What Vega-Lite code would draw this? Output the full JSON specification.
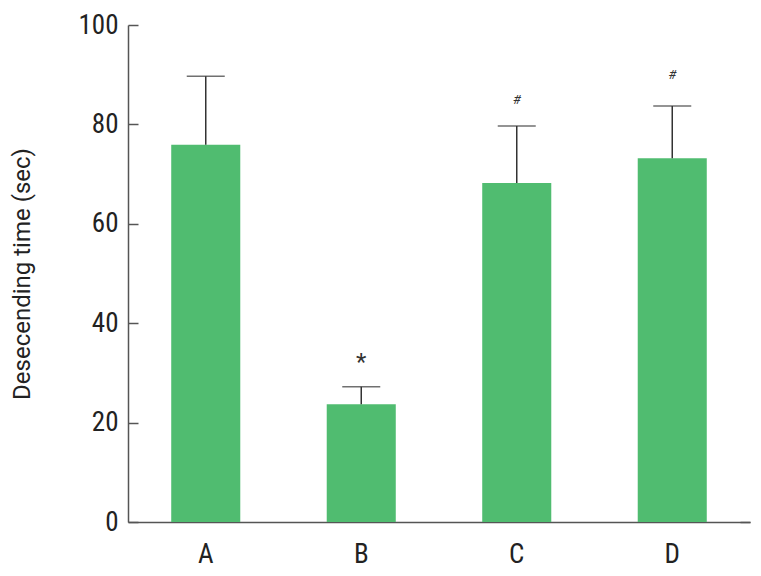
{
  "$schema": "https://vega.github.io/schema/vega-lite/v6.json",
  "width": 622,
  "height": 497,
  "autosize": {"type": "none"},
  "padding": {"left": 128, "top": 25, "right": 11, "bottom": 54},
  "background": "white",
  "config": {
    "view": {"stroke": null},
    "font": "Roboto"
  },
  "data": {
    "values": [
      {"group": "A", "mean": 75.9, "upper": 89.7, "mark": "", "markY": null},
      {"group": "B", "mean": 23.7, "upper": 27.2, "mark": "*", "markY": 31.9},
      {"group": "C", "mean": 68.2, "upper": 79.7, "mark": "#", "markY": 84.9},
      {"group": "D", "mean": 73.2, "upper": 83.7, "mark": "#", "markY": 89.9}
    ]
  },
  "encoding": {
    "x": {
      "field": "group",
      "type": "nominal",
      "scale": {"paddingInner": 0.556, "paddingOuter": 0.278},
      "axis": {
        "title": null,
        "labelAngle": 0,
        "ticks": false,
        "labelPadding": 19,
        "labelFontSize": 27,
        "labelFont": "Roboto Condensed, Liberation Sans Narrow, DejaVu Sans Condensed",
        "labelColor": "#222",
        "domainColor": "#555",
        "domainWidth": 1.5
      }
    }
  },
  "layer": [
    {
      "mark": {"type": "bar", "color": "#50BC70"},
      "encoding": {
        "y": {
          "field": "mean",
          "type": "quantitative",
          "scale": {"domain": [0, 100], "nice": false},
          "axis": {
            "title": "Desecending time (sec)",
            "titleFontSize": 24,
            "titleFontWeight": "normal",
            "titleColor": "#222",
            "titlePadding": 44,
            "values": [0, 20, 40, 60, 80, 100],
            "grid": false,
            "tickSize": -10,
            "tickColor": "#555",
            "tickWidth": 1.5,
            "domainColor": "#555",
            "domainWidth": 1.5,
            "labelPadding": 20,
            "labelFontSize": 27,
            "labelFont": "Roboto Condensed, Liberation Sans Narrow, DejaVu Sans Condensed",
            "labelColor": "#222"
          }
        }
      }
    },
    {
      "mark": {"type": "rule", "color": "#333", "strokeWidth": 1.5},
      "encoding": {
        "y": {"field": "mean", "type": "quantitative", "axis": null},
        "y2": {"field": "upper"}
      }
    },
    {
      "mark": {"type": "tick", "color": "#333", "size": 38, "thickness": 1.5, "orient": "horizontal"},
      "encoding": {
        "y": {"field": "upper", "type": "quantitative", "axis": null}
      }
    },
    {
      "transform": [{"filter": "datum.mark == '*'"}],
      "mark": {"type": "text", "fontSize": 24, "color": "#333", "baseline": "middle"},
      "encoding": {
        "y": {"field": "markY", "type": "quantitative", "axis": null},
        "text": {"field": "mark"}
      }
    },
    {
      "transform": [{"filter": "datum.mark == '#'"}],
      "mark": {"type": "text", "fontSize": 13, "color": "#333", "baseline": "middle", "fontStyle": "italic"},
      "encoding": {
        "y": {"field": "markY", "type": "quantitative", "axis": null},
        "text": {"field": "mark"}
      }
    },
    {
      "data": {"values": [{"v": 0}]},
      "mark": {"type": "point", "opacity": 0},
      "encoding": {
        "x": {"value": 0},
        "y": {
          "field": "v",
          "type": "quantitative",
          "axis": {
            "orient": "right",
            "title": null,
            "labels": false,
            "domain": false,
            "values": [0],
            "tickSize": -10,
            "tickColor": "#555",
            "tickWidth": 1.5,
            "grid": false
          }
        }
      }
    }
  ],
  "resolve": {"axis": {"y": "independent"}}
}
